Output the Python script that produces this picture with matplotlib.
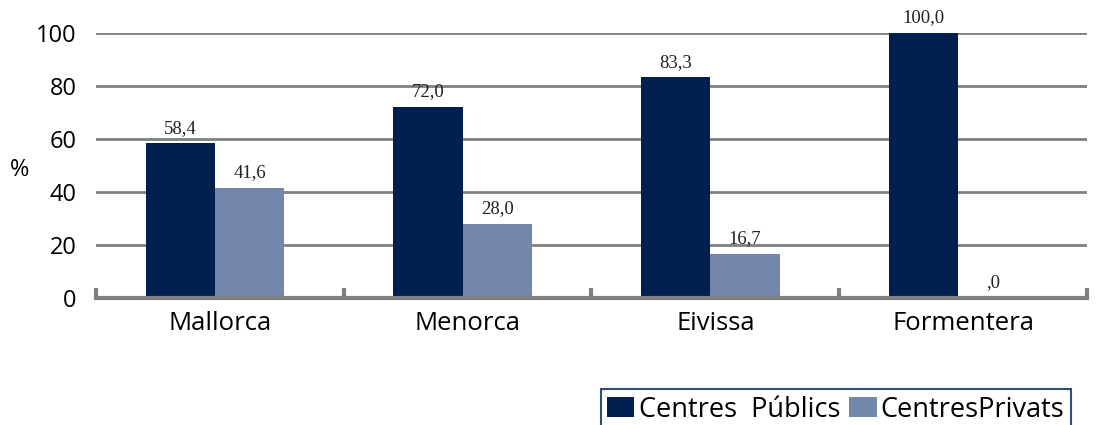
import numpy as np
import matplotlib.pyplot as plt
from matplotlib.ticker import FixedLocator

islands = ['Mallorca', 'Menorca', 'Eivissa', 'Formentera']
publics = [58.4, 72.0, 83.3, 100.0]
privats = [41.6, 28.0, 16.7, 0.0]
yticks = [0, 20, 40, 60, 80, 100]

navy = '#02204f'
light = '#7387ab'
grey = '#808080'
sans = ['Open Sans', 'DejaVu Sans']
serif = ['Liberation Serif', 'DejaVu Serif']

fig = plt.figure(figsize=(11.02, 4.25), dpi=100)
ax = fig.add_axes([0.0871, 0.2988, 0.8993, 0.6236])

x = np.arange(len(islands))
w = 0.28
b1 = ax.bar(x - w / 2 - 0.02, publics, w, color=navy, label='Centres  Públics', zorder=3)
b2 = ax.bar(x + w / 2 - 0.02, privats, w, color=light, label='CentresPrivats', zorder=3)

# labels on top, comma decimals
for bars, vals in ((b1, publics), (b2, privats)):
    for r, v in zip(bars, vals):
        txt = f'{v:.1f}'.replace('.', ',')
        if v == 0:
            txt = ',0'
        ax.text(r.get_x() + r.get_width() / 2, v + 2.5, txt, ha='center', va='bottom',
                fontsize=13.5, family=serif, color='#222222')

ax.set_xlim(-0.5, len(islands) - 0.5)
ax.set_ylim(0, 100)
ax.set_yticks(yticks)
ax.set_yticklabels([str(t) for t in yticks], family=sans, fontsize=17)
ax.set_xticks(x)
ax.set_xticklabels(islands, family=sans, fontsize=18.5)
ax.xaxis.set_minor_locator(FixedLocator(np.arange(-0.5, len(islands), 1.0)))
ax.tick_params(axis='x', which='major', length=0, pad=9)
ax.tick_params(axis='x', which='minor', direction='in', length=7, width=3, color=grey)
ax.tick_params(axis='y', length=0, pad=14)

ax.yaxis.grid(True, color=grey, linewidth=2)
ax.set_axisbelow(True)
for s in ('top', 'right', 'left'):
    ax.spines[s].set_visible(False)
ax.spines['bottom'].set_color(grey)
ax.spines['bottom'].set_linewidth(3)
ax.spines['bottom'].set_zorder(4)

fig.text(0.009, 0.60, '%', family=sans, fontsize=17, va='center')

leg = fig.legend(loc='upper left', bbox_to_anchor=(0.545, 0.085), ncol=2, frameon=True,
                 fancybox=False, edgecolor=navy, prop={'family': sans, 'size': 19.5},
                 handlelength=1.0, handleheight=0.75, handletextpad=0.15, columnspacing=0.35,
                 borderpad=0.25, borderaxespad=0)
leg.get_frame().set_linewidth(1.5)

fig.savefig('out.png', dpi=100)
